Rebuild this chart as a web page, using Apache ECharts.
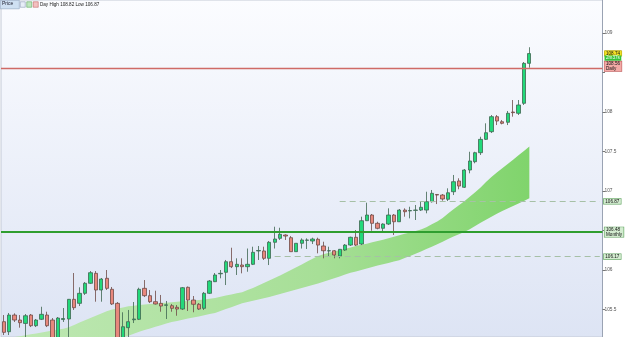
<!DOCTYPE html>
<html><head><meta charset="utf-8">
<script src="https://cdn.jsdelivr.net/npm/echarts@6/dist/echarts.min.js"></script>
<style>html,body{margin:0;padding:0;background:#fff;overflow:hidden}#c{width:625px;height:337px}</style>
</head><body><div id="c"></div>
<script>
// [open, close, low, high]
const candles = [
[105.346,105.211,105.177,105.430],[105.219,105.430,105.177,105.456],[105.430,105.367,105.342,105.452],
[105.367,105.333,105.270,105.430],[105.324,105.421,105.139,105.443],[105.430,105.295,105.278,105.443],
[105.295,105.367,105.278,105.380],[105.376,105.439,105.367,105.535],[105.430,105.295,105.278,105.472],
[105.367,105.114,105.089,105.392],[105.101,105.392,105.051,105.405],[105.373,105.386,105.342,105.519],
[105.380,105.629,105.114,105.633],[105.629,105.523,105.494,105.962],[105.578,105.705,105.544,105.781],
[105.705,105.832,105.684,105.848],[105.832,105.966,105.823,105.987],[105.958,105.747,105.599,105.987],
[105.747,105.886,105.599,105.899],[105.895,105.768,105.747,106.000],[105.756,105.570,105.557,105.785],
[105.578,105.051,105.013,105.595],[105.051,105.282,105.013,105.465],[105.270,105.346,105.152,105.494],
[105.370,105.380,105.329,105.595],[105.376,105.756,105.367,105.776],[105.768,105.675,105.658,105.873],
[105.675,105.599,105.582,105.747],[105.599,105.570,105.563,105.738],[105.578,105.544,105.472,105.684],
[105.553,105.559,105.380,105.608],[105.548,105.515,105.472,105.570],[105.528,105.506,105.421,105.557],
[105.506,105.776,105.494,105.785],[105.781,105.620,105.481,105.791],[105.620,105.566,105.465,105.671],
[105.566,105.506,105.494,105.582],[105.515,105.705,105.494,105.722],[105.705,105.861,105.696,105.873],
[105.852,105.937,105.848,105.962],[105.952,105.958,105.895,106.000],[105.971,106.105,105.810,106.127],
[106.105,106.042,106.025,106.282],[106.042,106.072,105.937,106.148],[106.063,106.042,105.958,106.148],
[106.042,106.072,105.978,106.272],[106.072,106.224,106.063,106.295],[106.241,106.247,106.127,106.304],
[106.241,106.148,106.127,106.295],[106.148,106.351,106.063,106.367],[106.351,106.392,106.272,106.548],
[106.401,106.452,106.380,106.535],[106.443,106.430,106.380,106.452],[106.409,106.232,106.232,106.430],
[106.232,106.338,106.228,106.342],[106.338,106.380,106.272,106.401],[106.376,106.380,106.266,106.401],
[106.367,106.392,106.329,106.409],[106.389,106.316,106.211,106.409],[106.304,106.244,106.148,106.358],
[106.242,106.244,106.168,106.295],[106.244,106.190,106.148,106.253],[106.177,106.262,106.148,106.266],
[106.253,106.316,106.241,106.329],[106.316,106.414,106.304,106.422],[106.414,106.316,106.304,106.506],
[106.329,106.624,106.316,106.675],[106.624,106.696,106.620,106.852],[106.696,106.591,106.497,106.709],
[106.591,106.528,106.515,106.611],[106.528,106.582,106.472,106.591],[106.582,106.696,106.570,106.781],
[106.696,106.611,106.443,106.709],[106.611,106.759,106.608,106.772],[106.759,106.738,106.675,106.781],
[106.748,106.753,106.654,106.801],[106.755,106.759,106.633,106.823],[106.759,106.794,106.747,106.865],
[106.759,106.865,106.718,106.991],[106.865,106.971,106.854,107.013],[106.956,106.949,106.835,106.962],
[106.949,106.899,106.877,106.962],[106.895,106.978,106.873,107.034],[106.991,107.118,106.949,107.203],
[107.127,107.063,107.022,107.161],[107.047,107.266,107.038,107.278],[107.266,107.380,107.224,107.497],
[107.371,107.485,107.351,107.497],[107.485,107.654,107.456,107.687],[107.654,107.738,107.646,107.857],
[107.751,107.941,107.734,107.962],[107.941,107.886,107.835,107.962],[107.877,107.857,107.844,107.899],
[107.870,107.984,107.835,108.013],[108.000,107.992,107.941,108.152],[107.984,108.089,107.962,108.152],
[108.110,108.616,108.089,108.633],[108.616,108.740,108.561,108.820]
];
const bandUpper = [
105.124,105.138,105.152,105.163,105.175,105.186,105.197,105.210,105.222,105.234,
105.246,105.258,105.276,105.305,105.334,105.363,105.392,105.422,105.451,105.478,
105.500,105.513,105.527,105.541,105.549,105.556,105.563,105.570,105.575,105.581,
105.586,105.592,105.597,105.603,105.609,105.614,105.619,105.628,105.637,105.646,
105.661,105.676,105.690,105.705,105.719,105.746,105.773,105.803,105.834,105.866,
105.899,105.932,105.966,106.000,106.034,106.071,106.109,106.143,106.177,106.201,
106.218,106.235,106.252,106.270,106.286,106.303,106.319,106.334,106.351,106.367,
106.384,106.403,106.422,106.441,106.458,106.476,106.494,106.513,106.542,106.578,
106.614,106.659,106.714,106.768,106.820,106.870,106.927,106.985,107.044,107.113,
107.178,107.233,107.289,107.343,107.397,107.452,107.506,107.562
];
const bandLower = [
104.687,104.710,104.733,104.756,104.780,104.803,104.825,104.848,104.871,104.894,
104.916,104.938,104.958,104.978,104.999,105.020,105.041,105.061,105.081,105.097,
105.114,105.130,105.146,105.168,105.194,105.220,105.241,105.261,105.281,105.301,
105.322,105.342,105.356,105.370,105.385,105.399,105.413,105.427,105.442,105.457,
105.481,105.505,105.530,105.554,105.580,105.596,105.611,105.628,105.643,105.659,
105.677,105.695,105.714,105.733,105.752,105.771,105.790,105.809,105.829,105.851,
105.873,105.896,105.919,105.942,105.965,105.982,106.001,106.019,106.037,106.056,
106.073,106.090,106.108,106.124,106.151,106.177,106.205,106.234,106.265,106.295,
106.325,106.358,106.392,106.423,106.452,106.480,106.515,106.557,106.599,106.635,
106.673,106.711,106.748,106.780,106.811,106.843,106.875,106.908
];
const emptySlots = 13;
const categories = candles.map((_, i) => 'c' + (i + 1)).concat(Array.from({length: emptySlots}, (_, i) => 'e' + (i + 1)));
const yTickLabels = [105.5, 106, 107, 107.5, 108, 109];
const yTickMarks = [105.5, 106, 106.5, 107, 107.5, 108, 108.5, 109];
const yMin = 105.152;
const yMax = 109.418;
const dailyLevel = 108.56;
const monthlyLevel = 106.48;
const dashedHigh = 106.87;
const dashedHighStart = 62;
const dashedLow = 106.17;
const dashedLowStart = 50;
const lastPrice = 108.74;
const countdown = '2m37s';
const headerText = 'Day High 108.82 Low 106.87';

const FONT = 'Liberation Sans, Arial, sans-serif';
const lastIdx = categories.length - 1;
const chart = echarts.init(document.getElementById('c'), null, {renderer: 'canvas'});
const boxLabel = (bg, border, extra) => Object.assign({
  show: true, position: 'end', distance: 2, fontSize: 4.6, fontFamily: FONT, color: '#111',
  backgroundColor: bg, borderColor: border, borderWidth: 0.6, padding: [0.5, 1.5, 0, 1.5], lineHeight: 4.6
}, extra || {});

chart.setOption({
  animation: false,
  backgroundColor: '#ffffff',
  grid: {
    left: 1, right: 22.5, top: 0, bottom: 0, show: true,
    borderColor: '#c4cad6', borderWidth: 1,
    backgroundColor: new echarts.graphic.LinearGradient(0, 0, 0, 1, [
      {offset: 0, color: '#fbfcff'}, {offset: 1, color: '#dde4f4'}])
  },
  xAxis: {
    type: 'category', data: categories, boundaryGap: true,
    axisLine: {show: false}, axisTick: {show: false}, axisLabel: {show: false}, splitLine: {show: false}
  },
  yAxis: {
    type: 'value', position: 'right', min: yMin, max: yMax,
    axisLine: {show: true, lineStyle: {color: '#9aa3b3', width: 1}},
    axisTick: {show: true, length: 2.5, lineStyle: {color: '#777'}, customValues: yTickMarks},
    splitLine: {show: false},
    axisLabel: {
      margin: 2, fontSize: 4.8, fontFamily: FONT, color: '#555', customValues: yTickLabels,
      formatter: v => String(+(+v).toFixed(1))
    }
  },
  graphic: [
    {type: 'rect', left: 0, top: 0, shape: {width: 19, height: 8.5}, style: {fill: '#cfe0f2', stroke: '#8fa3bd', lineWidth: 0.6}, z: 100},
    {type: 'text', left: 2, top: 1.6, style: {text: 'Price', fontSize: 5, fontFamily: FONT, fill: '#223'}, z: 101},
    {type: 'rect', left: 20, top: 1.5, shape: {width: 5, height: 5.5}, style: {fill: '#e8eef8', stroke: '#7a8aa8', lineWidth: 0.5}, z: 100},
    {type: 'rect', left: 26.5, top: 1.5, shape: {width: 5, height: 5.5}, style: {fill: '#bfe6bf', stroke: '#4a9a4a', lineWidth: 0.5}, z: 100},
    {type: 'rect', left: 33, top: 1.5, shape: {width: 5, height: 5.5}, style: {fill: '#f3c0c0', stroke: '#b85050', lineWidth: 0.5}, z: 100},
    {type: 'text', left: 40, top: 2, style: {text: headerText, fontSize: 4.6, fontFamily: FONT, fill: '#222'}, z: 101}
  ],
  series: [
    {
      name: 'bandBase', type: 'line', data: bandLower, stack: 'band', symbol: 'none',
      lineStyle: {opacity: 0}, silent: true, z: 1
    },
    {
      name: 'band', type: 'line', data: bandUpper.map((u, i) => +(u - bandLower[i]).toFixed(3)), stack: 'band', symbol: 'none',
      lineStyle: {opacity: 0}, silent: true, z: 1,
      areaStyle: {opacity: 1, color: new echarts.graphic.LinearGradient(0, 0, 1, 0, [
        {offset: 0, color: '#bfe8b4'}, {offset: 0.6, color: '#a7df97'}, {offset: 1, color: '#80d46c'}])}
    },
    {
      name: 'price', type: 'candlestick', data: candles, barWidth: 3.8, z: 3,
      itemStyle: {color: '#22d97a', color0: '#e8877c', borderColor: '#3f6650', borderColor0: '#6e4a46', borderWidth: 0.8},
      markLine: {
        silent: true, symbol: 'none', animation: false,
        data: [
          {yAxis: dailyLevel, lineStyle: {color: '#cf6a66', width: 1.4, type: 'solid'},
           label: boxLabel('#f2a9a6', '#c06060', {formatter: dailyLevel.toFixed(2) + '\nDaily', offset: [0, -1.5]})},
          {yAxis: monthlyLevel, lineStyle: {color: '#2f9e2f', width: 2, type: 'solid'},
           label: boxLabel('#d3ecd0', '#5aa05a', {formatter: monthlyLevel.toFixed(2) + '\nMonthly'})},
          [{coord: [dashedHighStart, dashedHigh], lineStyle: {color: '#a6c0a6', width: 1, type: [6, 4]},
            label: boxLabel('#d3ecd0', '#5aa05a', {formatter: dashedHigh.toFixed(2), distance: 4})},
           {coord: [lastIdx, dashedHigh]}],
          [{coord: [dashedLowStart, dashedLow], lineStyle: {color: '#a6c0a6', width: 1, type: [6, 4]},
            label: boxLabel('#d3ecd0', '#5aa05a', {formatter: dashedLow.toFixed(2), distance: 4})},
           {coord: [lastIdx, dashedLow]}],
          {yAxis: lastPrice, lineStyle: {color: 'rgba(0,0,0,0)', width: 0},
           label: {show: true, position: 'end', distance: 2, offset: [0, 2.2], padding: 0, fontFamily: FONT,
             formatter: '{a|' + lastPrice.toFixed(2) + '}\n{b|' + countdown + '}',
             rich: {
               a: {fontSize: 4.6, lineHeight: 4.6, backgroundColor: '#f2e025', borderColor: '#a89a10', borderWidth: 0.5, padding: [0.3, 1.5, 0, 1.5], color: '#111'},
               b: {fontSize: 4.6, lineHeight: 4.6, backgroundColor: '#35c23a', padding: [0.3, 1.5, 0, 1.5], color: '#fff'}
             }}}
        ]
      }
    }
  ]
});
</script></body></html>
